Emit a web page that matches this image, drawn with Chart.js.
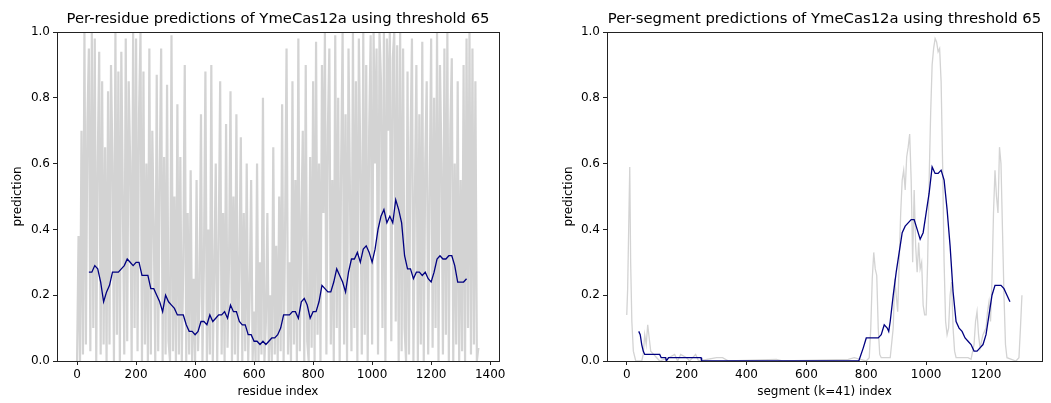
<!DOCTYPE html>
<html>
<head>
<meta charset="utf-8">
<script src="https://cdn.jsdelivr.net/npm/chart.js@4.4.1/dist/chart.umd.min.js"></script>
<style>
  body { margin: 0; background: #fff; }
  canvas { position: absolute; top: 0; }
  #residueChart { left: 0; }
  #segmentChart { left: 525px; }
</style>
</head>
<body>
<canvas id="residueChart" width="525" height="403"></canvas>
<canvas id="segmentChart" width="526" height="403"></canvas>
<script>
// per-residue raw predictions, one value every 5 residues from 0
const residueStep = 5;
const residueRaw = [
  0.0, 0.38, 0.0, 0.7, 0.02, 1.0, 0.05, 0.72, 0.95, 0.03, 1.0, 0.1, 0.98, 0.0, 0.6, 0.94, 0.02, 0.85, 0.05, 0.65,
  0.0, 0.82, 0.05, 0.9, 0.6, 0.0, 1.0, 0.08, 0.88, 0.0, 0.94, 0.5, 0.02, 0.98, 0.06, 0.85, 0.6, 0.0, 1.0, 0.1,
  0.98, 0.03, 0.75, 1.0, 0.0, 0.88, 0.05, 0.6, 0.0, 0.95, 0.02, 0.7, 0.4, 0.0, 0.87, 0.03, 0.55, 0.95, 0.0, 0.62,
  0.02, 0.84, 0.06, 0.0, 0.99, 0.03, 0.5, 0.0, 0.78, 0.02, 0.62, 0.0, 0.3, 0.9, 0.0, 0.45, 0.02, 0.58, 0.0, 0.25,
  0.0, 0.55, 0.03, 0.2, 0.75, 0.0, 0.3, 0.88, 0.0, 0.4, 0.02, 0.9, 0.0, 0.25, 0.6, 0.0, 0.35, 0.85, 0.02, 0.45,
  0.0, 0.72, 0.04, 0.3, 0.82, 0.0, 0.5, 0.02, 0.75, 0.0, 0.28, 0.68, 0.0, 0.45, 0.03, 0.6, 0.0, 0.2, 0.55, 0.0,
  0.15, 0.0, 0.6, 0.0, 0.3, 0.02, 0.8, 0.0, 0.12, 0.45, 0.0, 0.2, 0.0, 0.65, 0.02, 0.35, 0.0, 0.5, 0.03, 0.78,
  0.0, 0.4, 0.95, 0.02, 0.3, 0.0, 0.85, 0.05, 0.55, 0.0, 0.98, 0.03, 0.4, 0.7, 0.0, 0.9, 0.06, 0.0, 0.62, 0.04,
  0.85, 0.0, 0.97, 0.08, 0.6, 0.0, 0.9, 0.45, 1.0, 0.02, 0.7, 0.95, 0.05, 0.55, 0.0, 0.99, 0.1, 0.8, 0.0, 0.6,
  1.0, 0.05, 0.75, 0.0, 0.95, 0.5, 0.03, 1.0, 0.1, 0.85, 0.0, 0.98, 0.6, 0.02, 1.0, 0.08, 0.9, 0.0, 0.7, 0.99,
  0.05, 1.0, 0.6, 0.95, 0.02, 1.0, 0.85, 0.1, 1.0, 0.0, 0.98, 0.7, 1.0, 0.06, 0.92, 1.0, 0.12, 0.96, 0.0, 1.0,
  0.03, 0.95, 0.1, 0.0, 0.88, 0.02, 0.65, 0.98, 0.0, 0.5, 0.9, 0.0, 0.75, 0.05, 0.97, 0.0, 0.6, 0.85, 0.02, 0.5,
  0.98, 0.04, 0.8, 0.1, 1.0, 0.0, 0.9, 0.6, 0.02, 0.95, 0.08, 1.0, 0.0, 0.7, 0.92, 0.0, 0.6, 0.05, 0.85, 0.0,
  0.55, 0.03, 0.9, 0.0, 0.98, 0.1, 1.0, 0.02, 0.95, 0.05, 0.85, 0.0, 0.04
];

// smoothed per-residue predictions, every 10 residues from 40 to 1320
const residueSmoothStart = 40;
const residueSmoothStep = 10;
const residueSmooth = [
  0.27, 0.27, 0.29, 0.28, 0.24, 0.18, 0.21, 0.23, 0.27, 0.27, 0.27, 0.28, 0.29, 0.31, 0.30, 0.29, 0.30, 0.30, 0.26, 0.26,
  0.26, 0.22, 0.22, 0.20, 0.18, 0.15, 0.20, 0.18, 0.17, 0.16, 0.14, 0.14, 0.14, 0.11, 0.09, 0.09, 0.08, 0.09, 0.12, 0.12,
  0.11, 0.14, 0.12, 0.13, 0.14, 0.14, 0.15, 0.13, 0.17, 0.15, 0.15, 0.12, 0.11, 0.11, 0.08, 0.08, 0.06, 0.06, 0.05, 0.06,
  0.05, 0.06, 0.07, 0.07, 0.08, 0.10, 0.14, 0.14, 0.14, 0.15, 0.15, 0.13, 0.18, 0.19, 0.17, 0.13, 0.15, 0.15, 0.18, 0.23,
  0.22, 0.21, 0.21, 0.24, 0.28, 0.26, 0.24, 0.21, 0.27, 0.31, 0.31, 0.33, 0.30, 0.34, 0.35, 0.33, 0.30, 0.34, 0.40, 0.44,
  0.46, 0.42, 0.44, 0.42, 0.49, 0.46, 0.42, 0.32, 0.28, 0.28, 0.25, 0.27, 0.27, 0.26, 0.27, 0.25, 0.24, 0.27, 0.31, 0.32,
  0.31, 0.31, 0.32, 0.32, 0.29, 0.24, 0.24, 0.24, 0.25
];

// per-segment raw predictions
const segmentRawIdx = [
  0, 3, 6, 10, 13, 17, 22, 30, 50, 55, 60, 65, 70, 75, 80, 90, 100, 110, 140, 160,
  170, 180, 200, 210, 230, 240, 300, 320, 340, 500, 520, 740, 760, 780, 800, 810, 815, 820, 825, 830,
  835, 840, 845, 850, 880, 890, 895, 900, 905, 910, 915, 920, 925, 930, 935, 940, 945, 950, 955, 960,
  965, 970, 975, 980, 985, 990, 995, 1000, 1005, 1010, 1015, 1020, 1025, 1030, 1035, 1040, 1045, 1050, 1055, 1060,
  1065, 1070, 1075, 1080, 1085, 1090, 1095, 1100, 1140, 1150, 1160, 1165, 1170, 1175, 1180, 1190, 1200, 1205, 1210, 1215,
  1220, 1225, 1230, 1235, 1240, 1245, 1250, 1255, 1260, 1265, 1270, 1300, 1310, 1315, 1320
];
const segmentRaw = [
  0.14, 0.22, 0.38, 0.59, 0.30, 0.12, 0.03, 0.0, 0.0, 0.02, 0.08, 0.05, 0.11, 0.07, 0.03, 0.02, 0.01, 0.0, 0.01, 0.02,
  0.0, 0.02, 0.01, 0.0, 0.02, 0.0, 0.01, 0.01, 0.0, 0.005, 0.0, 0.005, 0.01, 0.005, 0.0, 0.01, 0.1, 0.25, 0.33, 0.28,
  0.26, 0.1, 0.02, 0.01, 0.01, 0.1, 0.25, 0.2, 0.15, 0.3, 0.45, 0.55, 0.58, 0.52, 0.62, 0.65, 0.69, 0.55, 0.3, 0.52,
  0.35, 0.27, 0.36, 0.28, 0.3, 0.17, 0.14, 0.14, 0.3, 0.55, 0.75, 0.9, 0.95, 0.98, 0.97, 0.94, 0.95, 0.85, 0.6, 0.3,
  0.12, 0.08, 0.1, 0.2, 0.24, 0.1, 0.03, 0.01, 0.01, 0.005, 0.05, 0.12, 0.15, 0.08, 0.04, 0.08, 0.1, 0.15, 0.18, 0.12,
  0.25, 0.45, 0.58, 0.5, 0.45, 0.65, 0.6, 0.4, 0.2, 0.05, 0.01, 0.0, 0.01, 0.1, 0.2
];

// smoothed per-segment predictions
const segmentSmoothIdx = [
  40, 45, 50, 55, 60, 110, 115, 130, 132, 140, 248, 250, 775, 790, 800, 840, 850, 860, 870, 875,
  880, 890, 900, 910, 920, 930, 940, 950, 960, 970, 980, 990, 1000, 1010, 1020, 1030, 1040, 1050, 1060, 1070,
  1080, 1090, 1100, 1110, 1120, 1130, 1140, 1150, 1160, 1170, 1180, 1190, 1200, 1210, 1220, 1230, 1240, 1250, 1260, 1270,
  1280
];
const segmentSmooth = [
  0.09, 0.08, 0.05, 0.03, 0.02, 0.02, 0.01, 0.01, 0.0, 0.01, 0.01, 0.0, 0.0, 0.04, 0.07, 0.07, 0.08, 0.11, 0.10, 0.09,
  0.12, 0.20, 0.27, 0.33, 0.39, 0.41, 0.42, 0.43, 0.43, 0.40, 0.37, 0.39, 0.45, 0.51, 0.59, 0.57, 0.57, 0.58, 0.55, 0.46,
  0.35, 0.21, 0.12, 0.10, 0.09, 0.07, 0.06, 0.05, 0.03, 0.03, 0.04, 0.05, 0.08, 0.14, 0.20, 0.23, 0.23, 0.23, 0.22, 0.20,
  0.18
];

const residueTicks = [0, 200, 400, 600, 800, 1000, 1200, 1400];
const segmentTicks = [0, 200, 400, 600, 800, 1000, 1200];
const predictionTicks = [0, 0.2, 0.4, 0.6, 0.8, 1.0];

const FONT = '"DejaVu Sans", sans-serif';
Chart.defaults.font.family = FONT;
Chart.defaults.color = '#000';

// matplotlib-like box around the axes plus a title centred on it
const framePlugin = {
  id: 'frame',
  afterDraw(chart, args, opts) {
    const c = chart.ctx;
    const a = chart.chartArea;
    c.save();
    c.strokeStyle = '#222';
    c.lineWidth = 1;
    c.strokeRect(Math.round(a.left) + 0.5, Math.round(a.top) + 0.5,
      Math.round(a.right - a.left), Math.round(a.bottom - a.top));
    c.fillStyle = '#000';
    c.font = '14.8px ' + FONT;
    c.textAlign = 'center';
    c.textBaseline = 'middle';
    c.fillText(opts.text, (a.left + a.right) / 2, 19);
    c.restore();
  }
};

function toPoints(xs, ys) {
  return ys.map((y, i) => ({ x: xs[i], y: y }));
}

function makeChart(id, o) {
  const tickGrid = { drawOnChartArea: false, drawTicks: true, tickLength: 4, color: '#222' };
  return new Chart(document.getElementById(id).getContext('2d'), {
    type: 'line',
    data: {
      datasets: [
        { data: o.smooth, borderColor: '#000080', borderWidth: 1.3, pointRadius: 0, tension: 0 },
        { data: o.raw, borderColor: '#d3d3d3', borderWidth: o.rawWidth, pointRadius: 0, tension: 0 }
      ]
    },
    options: {
      responsive: false,
      animation: false,
      devicePixelRatio: 1,
      layout: { padding: { left: 0, right: o.padRight, top: 32, bottom: 0 } },
      plugins: {
        legend: { display: false },
        tooltip: { enabled: false },
        frame: { text: o.title }
      },
      scales: {
        x: {
          type: 'linear',
          min: o.xMin,
          max: o.xMax,
          afterBuildTicks: axis => { axis.ticks = o.xTicks.map(v => ({ value: v })); },
          ticks: { padding: 3, font: { size: 12 }, maxRotation: 0, autoSkip: false, callback: v => String(v) },
          grid: tickGrid,
          border: { display: false },
          title: { display: true, text: o.xTitle, font: { size: 12 }, padding: { top: 0, bottom: 4 } },
          afterFit: axis => { axis.height = 42; }
        },
        y: {
          type: 'linear',
          min: 0,
          max: 1,
          afterBuildTicks: axis => { axis.ticks = predictionTicks.map(v => ({ value: v })); },
          ticks: { padding: 3, font: { size: 12 }, callback: v => v.toFixed(1) },
          grid: tickGrid,
          border: { display: false },
          title: { display: true, text: 'prediction', font: { size: 12 }, padding: { top: o.yTitlePad, bottom: 0 } },
          afterFit: axis => { axis.width = o.yWidth; }
        }
      }
    },
    plugins: [framePlugin]
  });
}

makeChart('residueChart', {
  title: 'Per-residue predictions of YmeCas12a using threshold 65',
  raw: toPoints(residueRaw.map((v, i) => i * residueStep), residueRaw),
  smooth: toPoints(residueSmooth.map((v, i) => residueSmoothStart + i * residueSmoothStep), residueSmooth),
  rawWidth: 2.2,
  xMin: -68, xMax: 1430, xTicks: residueTicks, xTitle: 'residue index',
  yWidth: 57, yTitlePad: 11, padRight: 26
});

makeChart('segmentChart', {
  title: 'Per-segment predictions of YmeCas12a using threshold 65',
  raw: toPoints(segmentRawIdx, segmentRaw),
  smooth: toPoints(segmentSmoothIdx, segmentSmooth),
  rawWidth: 1.3,
  xMin: -66, xMax: 1387, xTicks: segmentTicks, xTitle: 'segment (k=41) index',
  yWidth: 82, yTitlePad: 37, padRight: 9
});
</script>
</body>
</html>
